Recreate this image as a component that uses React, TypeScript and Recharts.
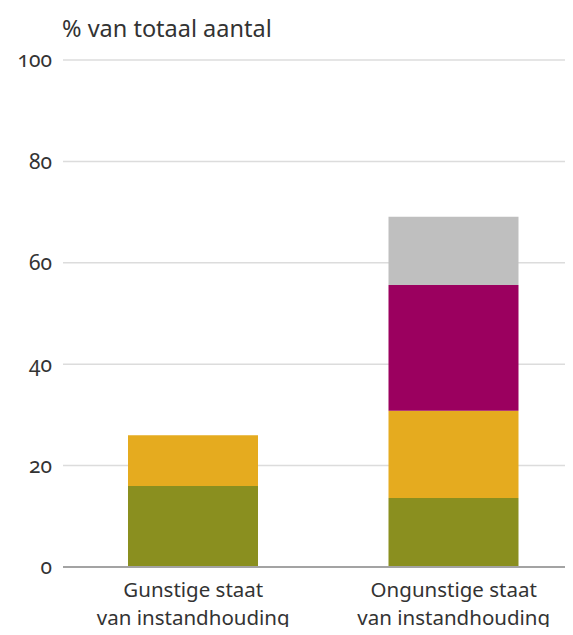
import { BarChart, Bar, XAxis, YAxis, CartesianGrid } from "recharts";

const categories = ["Gunstige staat|van instandhouding", "Ongunstige staat|van instandhouding"];
const greenValues = [16, 13.6];
const orangeValues = [10, 17.2];
const purpleValues = [0, 24.8];
const greyValues = [0, 13.5];
const yTicks = [0, 20, 40, 60, 80, 100];

const data = categories.map((c, i) => ({
  name: c,
  green: greenValues[i],
  orange: orangeValues[i],
  purple: purpleValues[i],
  grey: greyValues[i],
}));

const font = "'Noto Sans', 'Open Sans', sans-serif";

function CategoryTick(props: any) {
  const { x, y, payload } = props;
  const lines = String(payload.value).split("|");
  return (
    <text x={x} y={y} textAnchor="middle" fill="#333" fontSize={20.5} fontFamily={font}>
      {lines.map((l, i) => (
        <tspan key={i} x={x} dy={i === 0 ? 22 : 28}>
          {l}
        </tspan>
      ))}
    </text>
  );
}

export default function App() {
  return (
    <div
      style={{
        margin: -8,
        width: 573,
        height: 635,
        overflow: "hidden",
        position: "relative",
        background: "#fff",
      }}
    >
      <div
        style={{
          position: "absolute",
          left: 62,
          top: 12,
          fontFamily: font,
          fontSize: 23.5,
          color: "#333",
          whiteSpace: "nowrap",
        }}
      >
        % van totaal aantal
      </div>
      <BarChart
        width={590}
        height={635}
        data={data}
        margin={{ top: 60, right: 6, bottom: 0, left: 0 }}
        barSize={130}
      >
        <CartesianGrid vertical={false} stroke="#dcdcdc" strokeWidth={1.5} />
        <XAxis
          dataKey="name"
          height={68}
          tick={<CategoryTick />}
          tickLine={false}
          axisLine={{ stroke: "#a3a3a3", strokeWidth: 2 }}
          interval={0}
        />
        <YAxis
          width={63}
          domain={[0, 100]}
          ticks={yTicks}
          axisLine={false}
          tickLine={false}
          tickSize={0}
          tickMargin={11}
          tick={{
            fontSize: 21,
            fill: "#333",
            fontFamily: font,
            style: { fontVariantNumeric: "oldstyle-nums" },
          }}
        />
        <Bar dataKey="green" stackId="a" fill="#8A8F1F" isAnimationActive={false} />
        <Bar dataKey="orange" stackId="a" fill="#E5AB1F" isAnimationActive={false} />
        <Bar dataKey="purple" stackId="a" fill="#9B005F" isAnimationActive={false} />
        <Bar dataKey="grey" stackId="a" fill="#BFBFBF" isAnimationActive={false} />
      </BarChart>
    </div>
  );
}
